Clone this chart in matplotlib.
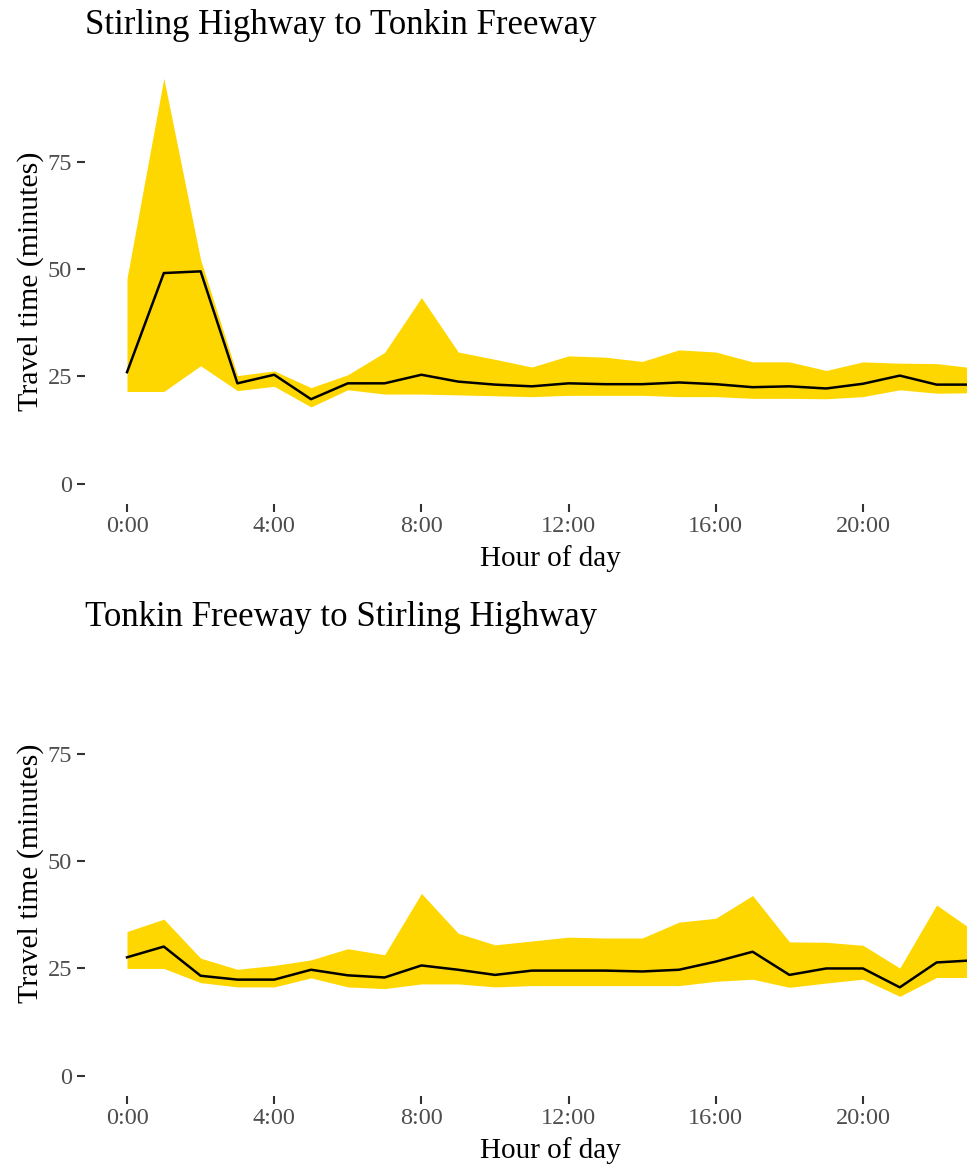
import matplotlib
matplotlib.use("Agg")
import matplotlib.pyplot as plt
from matplotlib.ticker import FixedLocator, FuncFormatter

hours = list(range(24))

# Stirling Highway -> Tonkin Freeway
st_median = [26.0, 49.1, 49.5, 23.4, 25.4, 19.7, 23.4, 23.4, 25.4, 23.8, 23.1, 22.7,
             23.4, 23.2, 23.2, 23.6, 23.2, 22.5, 22.7, 22.2, 23.3, 25.2, 23.1, 23.1]
st_upper = [47.9, 94.5, 52.2, 25.2, 26.3, 22.4, 25.4, 30.6, 43.4, 30.7, 29.0, 27.2,
            29.8, 29.5, 28.5, 31.2, 30.7, 28.4, 28.4, 26.4, 28.4, 28.1, 28.0, 27.0]
st_lower = [21.5, 21.5, 27.5, 21.7, 22.7, 17.9, 21.9, 20.9, 20.9, 20.7, 20.5, 20.3,
            20.6, 20.6, 20.6, 20.3, 20.3, 19.9, 19.9, 19.8, 20.3, 21.9, 21.1, 21.2]

# Tonkin Freeway -> Stirling Highway
ts_median = [27.6, 30.1, 23.3, 22.4, 22.4, 24.7, 23.4, 22.9, 25.7, 24.7, 23.5, 24.5,
             24.5, 24.5, 24.3, 24.7, 26.6, 28.9, 23.5, 25.0, 25.0, 20.6, 26.4, 26.9]
ts_upper = [33.6, 36.5, 27.4, 24.8, 25.7, 27.0, 29.6, 28.2, 42.5, 33.2, 30.5, 31.4,
            32.3, 32.1, 32.1, 35.8, 36.7, 42.0, 31.2, 31.1, 30.4, 25.1, 39.8, 33.8]
ts_lower = [25.0, 25.0, 21.7, 20.7, 20.7, 22.8, 20.7, 20.3, 21.4, 21.4, 20.7, 21.0,
            21.0, 21.0, 21.0, 21.0, 22.0, 22.5, 20.6, 21.6, 22.5, 18.5, 22.9, 22.9]

titles = ["Stirling Highway to Tonkin Freeway", "Tonkin Freeway to Stirling Highway"]
x_ticks = [0, 4, 8, 12, 16, 20]
y_ticks = [0, 25, 50, 75]

plt.rcParams['font.family'] = ['Liberation Serif', 'DejaVu Serif']

W, H = 967, 1165
fig = plt.figure(figsize=(W / 100, H / 100), dpi=100)

left_px, right_px = 84.7, 967
full_right_px = 1016  # the panel continues past the right edge of the image
panels_px = [(58, 504), (650, 1096)]

ymax = max(max(st_upper), max(ts_upper))
ylim = (-0.05 * ymax, ymax * 1.05)

series = [(st_median, st_upper, st_lower), (ts_median, ts_upper, ts_lower)]

for (top, bot), title, (med, up, lo) in zip(panels_px, titles, series):
    ax = fig.add_axes([left_px / W, 1 - bot / H, (right_px - left_px) / W, (bot - top) / H])
    ax.fill_between(hours, lo, up, color='#FFD700', linewidth=0)
    ax.plot(hours, med, color='black', linewidth=1.8)
    ax.set_xlim(-1.15, (right_px - 127) / 36.8)
    ax.set_ylim(*ylim)
    for s in ax.spines.values():
        s.set_visible(False)
    ax.xaxis.set_major_locator(FixedLocator(x_ticks))
    ax.xaxis.set_major_formatter(FuncFormatter(lambda v, p: f"{int(v)}:00"))
    ax.yaxis.set_major_locator(FixedLocator(y_ticks))
    ax.tick_params(axis='both', length=6, width=1.5, color='#333333',
                   labelcolor='#4D4D4D', labelsize=17.5, pad=3)
    ax.set_xlabel("Hour of day", fontsize=21, color='black')
    ax.xaxis.set_label_coords(((left_px + full_right_px) / 2 - left_px) / (right_px - left_px),
                              -0.093)
    ax.set_ylabel("Travel time (minutes)", fontsize=21.5, color='black', labelpad=3)
    ax.set_title(title, fontsize=25, loc='left', color='black', pad=17)

fig.savefig("out.png", dpi=100)
